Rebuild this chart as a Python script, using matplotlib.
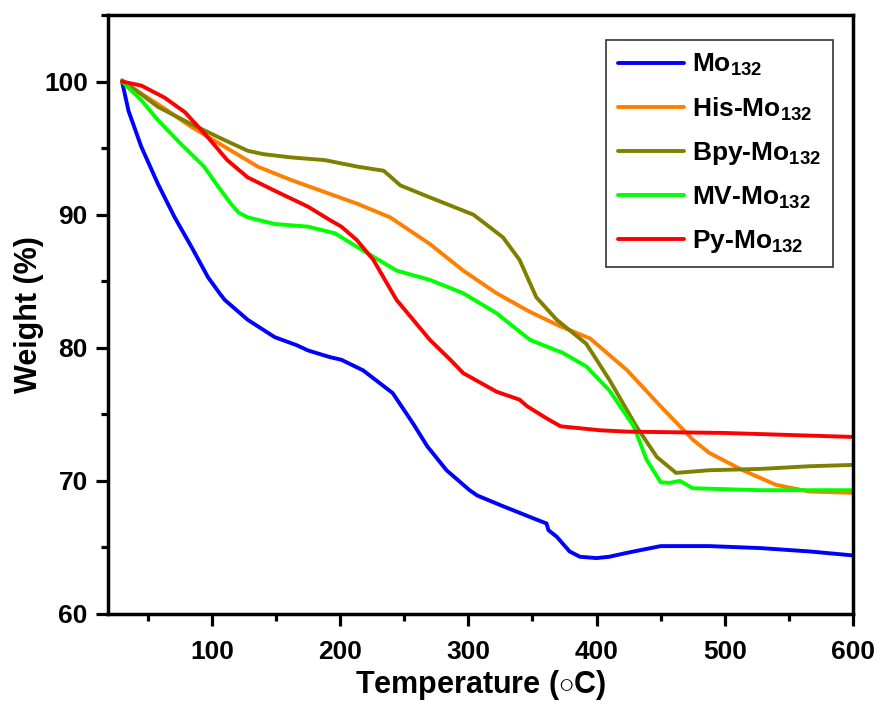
import matplotlib
matplotlib.use("Agg")
import matplotlib.pyplot as plt
from matplotlib.ticker import MultipleLocator

plt.rcParams['font.family'] = ['Liberation Sans', 'DejaVu Sans']
plt.rcParams['font.weight'] = 'bold'
plt.rcParams['mathtext.fontset'] = 'custom'
plt.rcParams['mathtext.rm'] = 'Liberation Sans:bold'
plt.rcParams['mathtext.bf'] = 'Liberation Sans:bold'
plt.rcParams['mathtext.it'] = 'Liberation Sans:bold'

# Mo132 (blue)
t_mo = [30, 35, 45, 58, 71, 84, 97, 106, 110, 128, 149, 166, 175, 192, 201, 218, 241, 257, 268, 283,
        301, 307, 327, 353, 361, 362.5, 369, 379, 387, 400, 410, 424, 450, 488, 528, 566, 600]
w_mo = [100, 97.8, 95.1, 92.3, 89.8, 87.6, 85.3, 84.1, 83.6, 82.1, 80.8, 80.2, 79.8, 79.3, 79.1, 78.3,
        76.6, 74.3, 72.6, 70.8, 69.3, 68.9, 68.1, 67.1, 66.8, 66.3, 65.8, 64.7, 64.3, 64.2, 64.3, 64.6,
        65.1, 65.1, 64.95, 64.7, 64.4]

# His-Mo132 (orange)
t_his = [30, 40, 58, 84, 110, 136, 162, 188, 214, 239, 270, 296, 322, 348, 372, 395, 424, 450, 475,
         488, 514, 540, 566, 600]
w_his = [100, 99.4, 98.3, 96.6, 95.1, 93.6, 92.6, 91.7, 90.8, 89.8, 87.8, 85.8, 84.1, 82.7, 81.6, 80.7,
         78.3, 75.6, 73.1, 72.1, 70.8, 69.7, 69.2, 69.1]

# Bpy-Mo132 (olive)
t_bpy = [30, 40, 58, 84, 110, 128, 140, 162, 188, 214, 234, 240, 247, 270, 304, 327, 340, 353, 369, 392,
         410, 431, 447, 462, 488, 528, 566, 600]
w_bpy = [100.1, 99.4, 98.1, 96.8, 95.6, 94.8, 94.55, 94.3, 94.1, 93.6, 93.3, 92.8, 92.2, 91.3, 90.0, 88.3,
         86.6, 83.8, 82.1, 80.3, 77.6, 74.1, 71.8, 70.6, 70.8, 70.9, 71.1, 71.2]

# MV-Mo132 (green)
t_mv = [30, 45, 58, 76, 94, 105, 115, 121, 128, 149, 175, 196, 218, 244, 270, 296, 322, 348, 374, 392,
        410, 429, 439, 450, 457, 465, 475, 528, 600]
w_mv = [100, 98.6, 97.1, 95.3, 93.6, 92.1, 90.8, 90.15, 89.8, 89.3, 89.1, 88.6, 87.3, 85.8, 85.1, 84.1,
        82.6, 80.6, 79.6, 78.6, 76.8, 74.1, 71.6, 69.9, 69.85, 70.0, 69.45, 69.3, 69.3]

# Py-Mo132 (red)
t_py = [30, 45, 63, 79, 97, 112, 128, 149, 175, 192, 201, 213, 226, 244, 270, 286, 296, 322, 340,
        346, 361, 372, 403, 424, 500, 600]
w_py = [100, 99.7, 98.8, 97.7, 95.8, 94.1, 92.8, 91.8, 90.6, 89.6, 89.1, 88.1, 86.6, 83.6, 80.6,
        79.1, 78.1, 76.7, 76.1, 75.6, 74.7, 74.1, 73.8, 73.7, 73.6, 73.3]

labels = [r'Mo$_{132}$', r'His-Mo$_{132}$', r'Bpy-Mo$_{132}$', r'MV-Mo$_{132}$', r'Py-Mo$_{132}$']
colors = ['#0000FF', '#FF8000', '#808000', '#00FF00', '#FF0000']

fig = plt.figure(figsize=(8.8, 7.05), dpi=100)
ax = fig.add_axes([0.1227, 0.1291, 0.8466, 0.8496])

series = [(t_mo, w_mo), (t_his, w_his), (t_bpy, w_bpy), (t_mv, w_mv), (t_py, w_py)]
for (t, w), lab, c in zip(series, labels, colors):
    ax.plot(t, w, color=c, lw=2.8, label=lab, solid_capstyle='round', solid_joinstyle='round')

ax.set_xlim(19, 600)
ax.set_ylim(60, 105)
ax.xaxis.set_major_locator(MultipleLocator(100))
ax.xaxis.set_minor_locator(MultipleLocator(50))
ax.yaxis.set_major_locator(MultipleLocator(10))
ax.yaxis.set_minor_locator(MultipleLocator(5))

for s in ax.spines.values():
    s.set_linewidth(2.5)
ax.tick_params(which='major', direction='out', length=8.5, width=2.3, labelsize=19)
ax.tick_params(which='minor', direction='out', length=5, width=2.3)
ax.tick_params(axis='x', which='major', pad=10)
ax.tick_params(axis='y', which='major', pad=6)
ax.tick_params(top=False, right=False, which='both')
for lbl in ax.get_xticklabels() + ax.get_yticklabels():
    lbl.set_fontweight('bold')

ax.set_xlabel(r'Temperature ($\circ$C)', fontsize=22, fontweight='bold', labelpad=3)
ax.set_ylabel('Weight (%)', fontsize=22, fontweight='bold', labelpad=0)

leg = ax.legend(loc='upper right', bbox_to_anchor=(0.973, 0.958), borderaxespad=0, fontsize=19,
                frameon=True, fancybox=False, edgecolor='black', handlelength=2.5,
                labelspacing=0.66, borderpad=0.45, handletextpad=0.3)
leg.get_frame().set_linewidth(1.2)
for txt in leg.get_texts():
    txt.set_fontweight('bold')

fig.savefig('out.png', dpi=100)
